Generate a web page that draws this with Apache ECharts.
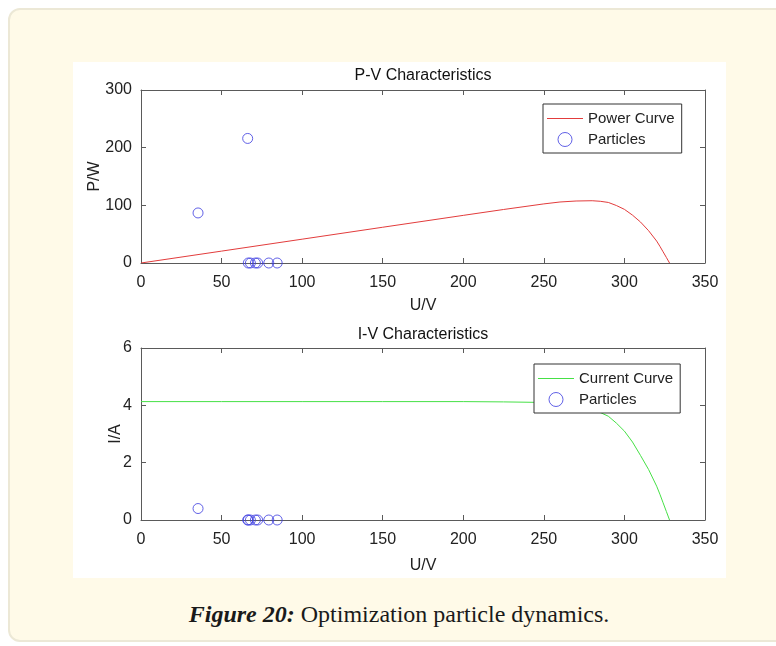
<!DOCTYPE html>
<html>
<head>
<meta charset="utf-8">
<script src="https://cdn.jsdelivr.net/npm/echarts@6/dist/echarts.min.js"></script>
<style>
  html, body { margin: 0; padding: 0; width: 776px; height: 646px; overflow: hidden; background: #ffffff; }
  #frame {
    position: absolute; left: 8px; top: 8px; width: 800px; height: 630px;
    background: #fffae8; border: 2px solid #ece8d6; border-radius: 12px;
  }
  #chart { position: absolute; left: 73px; top: 62px; width: 653px; height: 516px; background: #ffffff; }
  #caption {
    position: absolute; left: 0; width: 798px; top: 601px; text-align: center;
    font-family: 'Liberation Serif', 'DejaVu Serif', serif; font-size: 24px; color: #1a1a1a;
  }
</style>
</head>
<body>
<div id="frame"></div>
<div id="chart"></div>
<div id="caption"><b><i>Figure 20:</i></b> Optimization particle dynamics.</div>
<script>
// P-V curve
const pvVoltage = [0, 50, 100, 150, 200, 225, 250, 260, 270, 280, 285, 290, 295, 300, 305, 310, 315, 320, 322, 324, 326, 328];
const pvPower   = [0, 20.6, 41.3, 62, 82.6, 92.8, 102.5, 105.8, 107.5, 108, 107, 105, 99.7, 93, 83, 71, 56, 38, 29, 19.4, 9.8, 0];

// I-V curve
const ivVoltage = [0, 50, 100, 150, 200, 225, 250, 260, 270, 280, 285, 290, 295, 300, 305, 310, 315, 320, 322, 324, 326, 328];
const ivCurrent = [4.13, 4.13, 4.13, 4.13, 4.13, 4.12, 4.10, 4.07, 3.98, 3.85, 3.75, 3.62, 3.38, 3.10, 2.72, 2.25, 1.76, 1.18, 0.90, 0.60, 0.30, 0];

// particles
const particleV = [35.4, 66.2, 66.6, 67.9, 71.0, 72.4, 79.3, 84.5];
const particleP = [86.8, 216, 0, 0, 0, 0, 0, 0];
const particleI = [0.4, 0, 0, 0, 0, 0, 0, 0];

const xTicks = [0, 350, 50];
const pTicks = [0, 300, 100];
const iTicks = [0, 6, 2];

const FONT = "'Liberation Sans', Arial, sans-serif";
const TXT = '#222222';
const AXC = '#5a5a5a';
const RED = '#e23c3c';
const GREEN = '#46e046';
const BLUE = '#3b3be0';

function zip(a, b) {
    return a.map(function (v, i) { return [v, b[i]]; });
}

function mainX(grid, ticks) {
    return {
        type: 'value', gridIndex: grid, min: ticks[0], max: ticks[1], interval: ticks[2],
        name: 'U/V', nameLocation: 'middle', nameGap: grid === 0 ? 35 : 38, nameMoveOverlap: false,
        nameTextStyle: { fontFamily: FONT, fontSize: 16, color: TXT },
        axisLine: { show: true, lineStyle: { color: AXC, width: 1 } },
        axisTick: { show: true, inside: true, length: 5, lineStyle: { color: AXC } },
        axisLabel: { fontFamily: FONT, fontSize: 16, color: TXT, margin: 12 },
        splitLine: { show: false }
    };
}

function boxX(grid, ticks) {
    return {
        type: 'value', gridIndex: grid, position: 'top', min: ticks[0], max: ticks[1], interval: ticks[2],
        axisLine: { show: true, onZero: false, lineStyle: { color: AXC, width: 1 } },
        axisTick: { show: true, inside: true, length: 5, lineStyle: { color: AXC } },
        axisLabel: { show: false }, splitLine: { show: false }
    };
}

function mainY(grid, ticks, name, gap) {
    return {
        type: 'value', gridIndex: grid, min: ticks[0], max: ticks[1], interval: ticks[2],
        name: name, nameLocation: 'middle', nameGap: gap, nameMoveOverlap: false,
        nameTextStyle: { fontFamily: FONT, fontSize: 16, color: TXT },
        axisLine: { show: true, onZero: false, lineStyle: { color: AXC, width: 1 } },
        axisTick: { show: true, inside: true, length: 5, lineStyle: { color: AXC } },
        axisLabel: { fontFamily: FONT, fontSize: 16, color: TXT, margin: 9 },
        splitLine: { show: false }
    };
}

function boxY(grid, ticks) {
    return {
        type: 'value', gridIndex: grid, position: 'right', min: ticks[0], max: ticks[1], interval: ticks[2],
        axisLine: { show: true, onZero: false, lineStyle: { color: AXC, width: 1 } },
        axisTick: { show: true, inside: true, length: 5, lineStyle: { color: AXC } },
        axisLabel: { show: false }, splitLine: { show: false }
    };
}

function legendBox(left, top, first, color) {
    return {
        orient: 'vertical', left: left, top: top,
        padding: [7, 7, 6, 4], itemGap: 6, itemWidth: 36, itemHeight: 14,
        backgroundColor: '#ffffff', borderColor: '#333333', borderWidth: 1,
        textStyle: { fontFamily: FONT, fontSize: 15, color: TXT },
        selectedMode: false,
        data: [
            { name: first, icon: 'path://M0,0 L40,0 L40,1 L0,1 Z', itemStyle: { color: color } },
            { name: 'Particles', icon: 'circle',
              itemStyle: { color: 'rgba(0,0,0,0)', borderColor: BLUE, borderWidth: 1 } }
        ]
    };
}

const chart = echarts.init(document.getElementById('chart'));

const option = {
    animation: false,
    title: [
        { text: 'P-V Characteristics', left: 350, top: 6, textAlign: 'center', padding: 0,
          textStyle: { fontFamily: FONT, fontSize: 16, fontWeight: 'normal', color: '#111111' } },
        { text: 'I-V Characteristics', left: 350, top: 265, textAlign: 'center', padding: 0,
          textStyle: { fontFamily: FONT, fontSize: 16, fontWeight: 'normal', color: '#111111' } }
    ],
    grid: [
        { left: 68, top: 28, width: 564, height: 173 },
        { left: 68, top: 286, width: 564, height: 172 }
    ],
    legend: [
        legendBox(470, 42, 'Power Curve', RED),
        legendBox(461, 302, 'Current Curve', GREEN)
    ],
    xAxis: [mainX(0, xTicks), mainX(1, xTicks), boxX(0, xTicks), boxX(1, xTicks)],
    yAxis: [mainY(0, pTicks, 'P/W', 38), mainY(1, iTicks, 'I/A', 17), boxY(0, pTicks), boxY(1, iTicks)],
    series: [
        { name: 'Power Curve', type: 'line', xAxisIndex: 0, yAxisIndex: 0,
          data: zip(pvVoltage, pvPower), showSymbol: false, smooth: false,
          lineStyle: { color: RED, width: 1 }, itemStyle: { color: RED } },
        { name: 'Particles', type: 'scatter', xAxisIndex: 0, yAxisIndex: 0,
          data: zip(particleV, particleP), symbol: 'circle', symbolSize: 10,
          itemStyle: { color: 'rgba(0,0,0,0)', borderColor: BLUE, borderWidth: 1 } },
        { name: 'Current Curve', type: 'line', xAxisIndex: 1, yAxisIndex: 1,
          data: zip(ivVoltage, ivCurrent), showSymbol: false, smooth: false,
          lineStyle: { color: GREEN, width: 1 }, itemStyle: { color: GREEN } },
        { name: 'Particles', type: 'scatter', xAxisIndex: 1, yAxisIndex: 1,
          data: zip(particleV, particleI), symbol: 'circle', symbolSize: 10,
          itemStyle: { color: 'rgba(0,0,0,0)', borderColor: BLUE, borderWidth: 1 } }
    ]
};
chart.setOption(option);
</script>
</body>
</html>
